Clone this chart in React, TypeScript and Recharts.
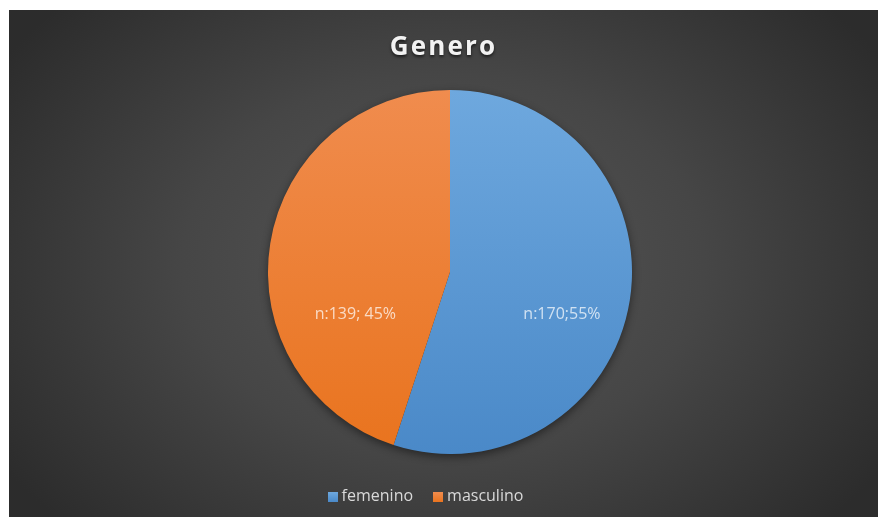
import { PieChart, Pie, Cell, Legend } from 'recharts';

const categories = ['femenino', 'masculino'];
const counts = [170, 139];
const percents = [55, 45];
const labelTexts = ['n:170;55%', 'n:139; 45%'];

const colors = ['#5B9BD5', '#ED7D31'];
const gradients = [
  ['#6ea8de', '#4a89c8'],
  ['#f08c4e', '#e9741f'],
];
// label position as a fraction of the radius (Excel "best fit")
const labelPos = [
  { dx: 0.615, dy: 0.225 },
  { dx: -0.52, dy: 0.225 },
];

const data = categories.map((name, i) => ({ name, value: counts[i], pct: percents[i] }));

const W = 869;
const H = 507;

function renderLabel(props: any) {
  const { cx, cy, outerRadius, index } = props;
  const p = labelPos[index];
  return (
    <text
      x={cx + p.dx * outerRadius}
      y={cy + p.dy * outerRadius}
      textAnchor="middle"
      dominantBaseline="central"
      fill="#ffffff"
      fillOpacity={0.72}
      style={{ fontFamily: '"Open Sans", sans-serif', fontSize: 16 }}
    >
      {labelTexts[index]}
    </text>
  );
}

export default function App() {
  return (
    <div
      style={{
        position: 'fixed',
        left: 9,
        top: 10,
        width: W,
        height: H,
        background: 'radial-gradient(ellipse 60% 75% at 50% 50%, #565656 0%, #464646 50%, #2c2c2c 100%)',
        fontFamily: '"Open Sans", sans-serif',
      }}
    >
      <style>{`.recharts-pie { filter: drop-shadow(0px 3px 4px rgba(0,0,0,0.45)); }`}</style>
      <div
        style={{
          position: 'absolute',
          top: 17,
          left: 0,
          width: W,
          textAlign: 'center',
          color: '#f2f2f2',
          fontSize: 26,
          fontWeight: 700,
          letterSpacing: 2.2,
          textShadow: '0 2px 3px rgba(0,0,0,0.6)',
        }}
      >
        Genero
      </div>
      <PieChart width={W} height={H} margin={{ top: 0, right: 0, bottom: 0, left: 0 }}>
        <defs>
          {gradients.map((g, i) => (
            <linearGradient key={i} id={`grad${i}`} x1="0" y1="0" x2="0" y2="1">
              <stop offset="0%" stopColor={g[0]} />
              <stop offset="100%" stopColor={g[1]} />
            </linearGradient>
          ))}
        </defs>
        <Pie
          data={data}
          dataKey="value"
          nameKey="name"
          cx={441}
          cy={262}
          outerRadius={182}
          startAngle={90}
          endAngle={-270}
          stroke="none"
          label={renderLabel}
          labelLine={false}
          isAnimationActive={false}
        >
          {data.map((d, i) => (
            <Cell key={d.name} fill={`url(#grad${i})`} />
          ))}
        </Pie>
        <Legend
          verticalAlign="bottom"
          iconType="square"
          iconSize={10}
          payload={categories.map((c, i) => ({ value: c, type: 'square', color: colors[i], id: c }))}
          formatter={(value: string) => (
            <span
              style={{
                color: '#d9d9d9',
                fontSize: 16,
                marginRight: value === categories[0] ? 10 : 0,
              }}
            >
              {value}
            </span>
          )}
          wrapperStyle={{ left: 0, width: 843, bottom: 11 }}
        />
      </PieChart>
    </div>
  );
}
